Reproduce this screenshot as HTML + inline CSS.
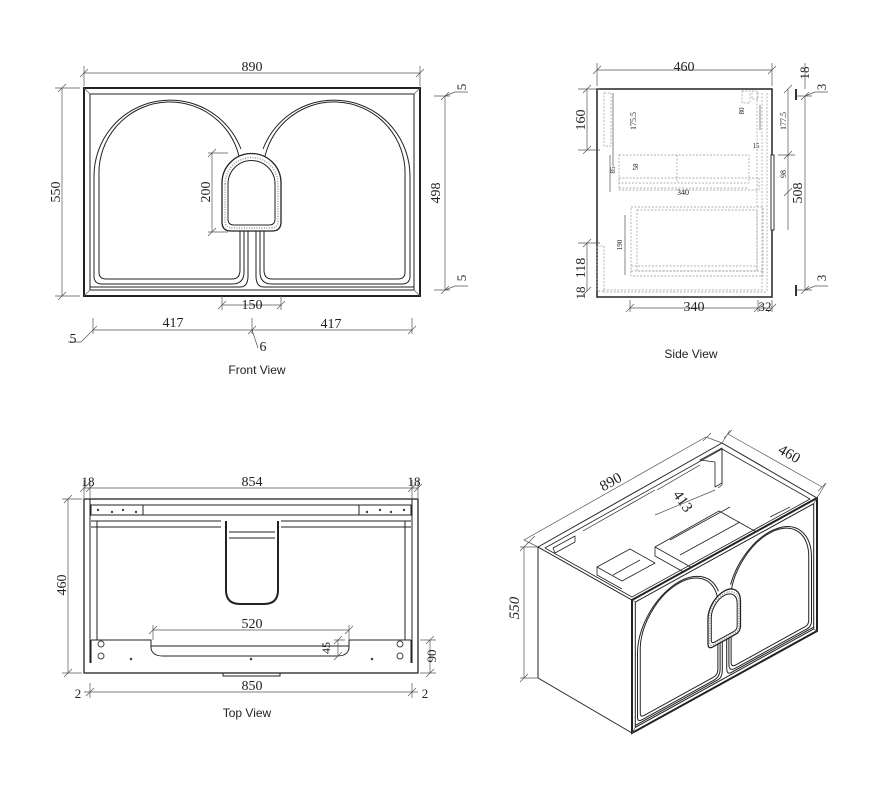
<!DOCTYPE html>
<html><head><meta charset="utf-8"><style>
html,body{margin:0;padding:0;background:#fff}
svg{display:block}
text{font-family:"Liberation Serif",serif;fill:#222}
.s{font-family:"Liberation Sans",sans-serif}
.l{stroke:#222;fill:none;stroke-width:1}
.t{stroke:#555;fill:none;stroke-width:.7}
.d{stroke:#999;fill:none;stroke-width:.7;stroke-dasharray:2 1.5}
</style></head><body>
<svg width="888" height="789" viewBox="0 0 888 789" xmlns="http://www.w3.org/2000/svg">
<defs>
<g id="doors">
 <rect x="84" y="88" width="336" height="208" fill="#fff" stroke="#222" stroke-width="2" vector-effect="non-scaling-stroke"/>
 <rect x="90" y="94" width="324" height="196" class="l" vector-effect="non-scaling-stroke"/>
 <path d="M84,88 L90,94 M420,88 L414,94 M84,296 L90,290 M420,296 L414,290" class="t" vector-effect="non-scaling-stroke"/>
 <g class="l">
 <path vector-effect="non-scaling-stroke" d="M241,149 A76,76 0 0 0 94,176 V276 Q94,284 102,284 H232 Q244,284 244,272 V231"/>
 <path vector-effect="non-scaling-stroke" d="M241,170 A71,71 0 0 0 99,176 V272 Q99,279 106,279 H232 Q240,279 240,270 V231"/>
 <path vector-effect="non-scaling-stroke" d="M263,149 A76,76 0 0 1 410,176 V276 Q410,284 402,284 H272 Q260,284 260,272 V231"/>
 <path vector-effect="non-scaling-stroke" d="M263,170 A71,71 0 0 1 405,176 V272 Q405,279 398,279 H272 Q264,279 264,270 V231"/>
 <path vector-effect="non-scaling-stroke" d="M248,231 V276 Q248,287 240,287 H90 M256,231 V276 Q256,287 264,287 H414"/>
 </g>
 <path vector-effect="non-scaling-stroke" d="M222,183 A29,29 0 0 1 281,183 V222 Q281,231 272,231 H231 Q222,231 222,222 Z" fill="#fff" stroke="#222" stroke-width="1.3"/>
 <path vector-effect="non-scaling-stroke" d="M228,184 A23.5,23.5 0 0 1 275,184 V219 Q275,225 269,225 H234 Q228,225 228,219 Z" fill="#fff" stroke="#222" stroke-width="1"/>
 <path vector-effect="non-scaling-stroke" d="M225,184 A26.5,26.5 0 0 1 278,184 V221 Q278,228 271,228 H232 Q225,228 225,221 Z" fill="none" stroke="#999" stroke-width="1.5" stroke-dasharray="1 1.5"/>
</g>
</defs>

<!-- FRONT VIEW -->
<use href="#doors"/>
<g class="t">
 <path d="M84,73 H420 M84,66 V86 M420,66 V86 M80,77 L88,69 M416,77 L424,69"/>
 <path d="M62,88 V296 M55,88 H80 M55,296 H80 M58,92 L66,84 M58,300 L66,292"/>
 <path d="M445,96 V290 M434,96 H450 M434,290 H450 M441,100 L449,92 M441,294 L449,286 M445,96 L455,92 H468 M445,290 L455,286 H468"/>
 <path d="M212,153 V232 M208,153 H228 M208,232 H228 M208,157 L216,149 M208,236 L216,228"/>
 <path d="M222,305 H281 M222,296 V310 M281,296 V310 M218,309 L226,301 M277,309 L285,301"/>
 <path d="M93,330 H412 M93,318 V334 M252,318 V334 M412,318 V334 M89,334 L97,326 M248,334 L256,326 M408,334 L416,326 M93,330 L81,342 H68 M252,330 L258,348"/>
</g>
<text x="252" y="71" font-size="14" text-anchor="middle">890</text>
<text x="60" y="192" font-size="14" text-anchor="middle" transform="rotate(-90 60 192)">550</text>
<text x="440" y="193" font-size="14" text-anchor="middle" transform="rotate(-90 440 193)">498</text>
<text x="466" y="87" font-size="13" text-anchor="middle" transform="rotate(-90 466 87)">5</text>
<text x="466" y="278" font-size="13" text-anchor="middle" transform="rotate(-90 466 278)">5</text>
<text x="210" y="192" font-size="14" text-anchor="middle" transform="rotate(-90 210 192)">200</text>
<text x="252" y="309" font-size="14" text-anchor="middle">150</text>
<text x="173" y="327" font-size="14" text-anchor="middle">417</text>
<text x="331" y="328" font-size="14" text-anchor="middle">417</text>
<text x="73" y="343" font-size="14" text-anchor="middle">5</text>
<text x="263" y="351" font-size="14" text-anchor="middle">6</text>
<text x="257" y="374" font-size="12" class="s" text-anchor="middle">Front View</text>

<!-- SIDE VIEW -->
<rect x="597" y="89" width="175" height="208" fill="#fff" stroke="#222" stroke-width="1.5"/>
<rect x="771" y="155" width="3" height="75" fill="#fff" stroke="#333" stroke-width="1"/>
<g class="d">
 <rect x="604" y="93" width="7" height="53"/><rect x="597" y="246" width="7" height="45"/>
 <rect x="619" y="155" width="130" height="28"/><rect x="619" y="178" width="140" height="12"/>
 <path d="M677,155 V183 M619,188 H749"/>
 <rect x="631" y="207" width="132" height="69"/><rect x="637" y="210" width="120" height="61"/>
 <path d="M631,266 H757 M631,271 H763 M757,210 V271"/>
 <path d="M762,93 V290 H603 M767,93 V292 M757,93 V207 M603,292 H767"/>
 <rect x="742" y="91" width="8" height="12"/><rect x="752" y="91" width="6" height="8"/>
</g>
<g class="t">
 <path d="M597,70 H772 M597,63 V86 M772,63 V86 M593,74 L601,66 M768,74 L776,66"/>
 <path d="M587,89 V150 M578,89 H600 M578,150 H600 M583,93 L591,85 M583,154 L591,146"/>
 <path d="M587,243 V291 M578,243 H600 M583,247 L591,239 M583,295 L591,287"/>
 <path d="M630,308 H772 M630,300 V312 M758,300 V312 M772,300 V312 M626,312 L634,304 M754,312 L762,304 M768,312 L776,304"/>
 <path d="M788,89 V230 M778,155 H795 M784,93 L792,85 M784,159 L792,151 M784,196 L792,188"/>
 <path d="M805,96 V290 M795,96 H812 M795,290 H812 M801,100 L809,92 M801,294 L809,286 M805,96 L815,92 H828 M805,290 L815,286 H828 M805,89 V63"/>
 <path d="M613,93 V166 M610,155 V192 M625,215 V275 M760,105 V130"/>
</g>
<path d="M796,89 V100 M796,285 V296" stroke="#333" stroke-width="2"/>
<text x="684" y="71" font-size="14" text-anchor="middle">460</text>
<text x="585" y="120" font-size="14" text-anchor="middle" transform="rotate(-90 585 120)">160</text>
<text x="585" y="268" font-size="14" text-anchor="middle" transform="rotate(-90 585 268)">118</text>
<text x="585" y="293" font-size="13" text-anchor="middle" transform="rotate(-90 585 293)">18</text>
<text x="809" y="73" font-size="13" text-anchor="middle" transform="rotate(-90 809 73)">18</text>
<text x="826" y="87" font-size="13" text-anchor="middle" transform="rotate(-90 826 87)">3</text>
<text x="826" y="278" font-size="13" text-anchor="middle" transform="rotate(-90 826 278)">3</text>
<text x="802" y="193" font-size="14" text-anchor="middle" transform="rotate(-90 802 193)">508</text>
<text x="786" y="121" font-size="8" text-anchor="middle" transform="rotate(-90 786 121)">177.5</text>
<text x="786" y="174" font-size="8" text-anchor="middle" transform="rotate(-90 786 174)">98</text>
<text x="636" y="121" font-size="8" text-anchor="middle" transform="rotate(-90 636 121)">175.5</text>
<text x="638" y="167" font-size="7" text-anchor="middle" transform="rotate(-90 638 167)">58</text>
<text x="615" y="170" font-size="7" text-anchor="middle" transform="rotate(-90 615 170)">85</text>
<text x="744" y="111" font-size="7" text-anchor="middle" transform="rotate(-90 744 111)">80</text>
<text x="622" y="245" font-size="7" text-anchor="middle" transform="rotate(-90 622 245)">190</text>
<text x="683" y="195" font-size="8" text-anchor="middle">340</text>
<text x="756" y="148" font-size="7" text-anchor="middle">15</text>
<text x="694" y="311" font-size="14" text-anchor="middle">340</text>
<text x="765" y="311" font-size="13" text-anchor="middle">32</text>
<text x="691" y="358" font-size="12" class="s" text-anchor="middle">Side View</text>

<!-- TOP VIEW -->
<rect x="84" y="499" width="334" height="174" fill="#fff" stroke="#222" stroke-width="1.3"/>
<g class="l">
 <path d="M90,499 V663 M412,499 V663 M90,505 H412 M90,515 H412"/>
 <rect x="91" y="505" width="52" height="10"/><rect x="359" y="505" width="52" height="10"/>
 <path d="M91,521 H221 M97,521 V640 M91,527 H221 M281,521 H411 M405,521 V640 M281,527 H411 M91,640 V663 M411,640 V663"/>
 <path d="M91,640 H151 V648 Q152,656 163,656 H337 Q348,656 349,648 V640 H411 M151,646 H349"/>
 <path d="M226,521 V590 Q226,604 240,604 H264 Q278,604 278,590 V521" stroke-width="2"/>
 <path d="M229,532 H275 M229,538 H275"/>
 <rect x="223" y="673" width="57" height="3"/>
</g>
<g fill="#fff" stroke="#444" stroke-width="1"><circle cx="101" cy="644" r="3"/><circle cx="101" cy="656" r="3"/><circle cx="400" cy="644" r="3"/><circle cx="400" cy="656" r="3"/></g>
<g fill="#444"><circle cx="131" cy="659" r="1.3"/><circle cx="251" cy="659" r="1.3"/><circle cx="372" cy="659" r="1.3"/><circle cx="98" cy="510" r="1.2"/><circle cx="112" cy="512" r="1.2"/><circle cx="123" cy="510" r="1.2"/><circle cx="136" cy="512" r="1.2"/><circle cx="367" cy="512" r="1.2"/><circle cx="380" cy="510" r="1.2"/><circle cx="391" cy="512" r="1.2"/><circle cx="404" cy="510" r="1.2"/></g>
<g class="t">
 <path d="M84,488 H418 M84,480 V498 M90,480 V498 M412,480 V498 M418,480 V498 M80,492 L88,484 M86,492 L94,484 M408,492 L416,484 M414,492 L422,484"/>
 <path d="M68,499 V673 M62,499 H82 M62,673 H82 M64,503 L72,495 M64,677 L72,669"/>
 <path d="M153,630 H349 M153,625 V640 M349,625 V640 M149,634 L157,626 M345,634 L353,626"/>
 <path d="M338,640 V656 M334,640 H345 M334,644 L342,636 M334,660 L342,652"/>
 <path d="M430,640 V673 M420,640 H436 M420,673 H436 M426,644 L434,636 M426,677 L434,669"/>
 <path d="M90,692 H412 M90,683 V698 M412,683 V698 M86,696 L94,688 M408,696 L416,688 M90,692 H84 M412,692 H418"/>
</g>
<text x="252" y="486" font-size="14" text-anchor="middle">854</text>
<text x="88" y="486" font-size="13" text-anchor="middle">18</text>
<text x="414" y="486" font-size="13" text-anchor="middle">18</text>
<text x="66" y="585" font-size="14" text-anchor="middle" transform="rotate(-90 66 585)">460</text>
<text x="252" y="628" font-size="14" text-anchor="middle">520</text>
<text x="330" y="648" font-size="12" text-anchor="middle" transform="rotate(-90 330 648)">45</text>
<text x="436" y="656" font-size="13" text-anchor="middle" transform="rotate(-90 436 656)">90</text>
<text x="252" y="690" font-size="14" text-anchor="middle">850</text>
<text x="78" y="698" font-size="13" text-anchor="middle">2</text>
<text x="425" y="698" font-size="13" text-anchor="middle">2</text>
<text x="247" y="717" font-size="12" class="s" text-anchor="middle">Top View</text>

<!-- ISO VIEW -->
<g stroke="#222" stroke-width="1" fill="#fff" stroke-linejoin="round">
 <path d="M538,547 L632,600 L632,733 L538,678 Z"/>
 <path d="M538,547 L722,443 L817,498 L632,600 Z"/>
 <path d="M545,548 L722,449 L810,499 L632,597 Z" fill="none" stroke-width=".8"/>
 <path d="M597,567 L630,549 L655,563 L622,581 Z M613,575 L640,560 M597,567 V575 L622,589" fill="none" stroke-width=".8"/>
 <path d="M655,547 L719,511 L760,534 L696,570 Z M655,547 V556 L696,579 M670,540 L730,507 M740,522 L680,555" fill="none" stroke-width=".8"/>
 <path d="M583,531 L655,490 M722,449 V485 L718,488 M657,490 L700,465 M770,517 L790,507" fill="none" stroke-width=".7"/>
 <path d="M700,460 L722,448 V483 L715,487 V462 Z M553,548 L575,536 V542 L555,553 Z" fill="none" stroke-width=".8"/>
</g>
<use href="#doors" transform="matrix(0.5506,-0.3036,0,0.6394,585.75,569.23)"/>
<g class="t">
 <path d="M538,547 L524,540 L706,437 L722,443 M527,544 L535,536 M703,441 L711,433"/>
 <path d="M728,434 L822,487 M817,498 L826,483 M722,443 L730,430 M724,438 L732,430 M818,491 L826,483"/>
 <path d="M538,547 H520 M538,678 H520 M524,547 V678 M520,551 L528,543 M520,682 L528,674"/>
 <path d="M655,515 L715,490"/>
</g>
<text x="613" y="486" font-size="15" text-anchor="middle" transform="rotate(-29 613 486)">890</text>
<text x="787" y="458" font-size="15" text-anchor="middle" transform="rotate(30 787 458)">460</text>
<text x="679" y="504" font-size="15" text-anchor="middle" transform="rotate(55 679 504)">413</text>
<text x="519" y="608" font-size="15" text-anchor="middle" font-style="italic" transform="rotate(-90 519 608)">550</text>
</svg>
</body></html>
